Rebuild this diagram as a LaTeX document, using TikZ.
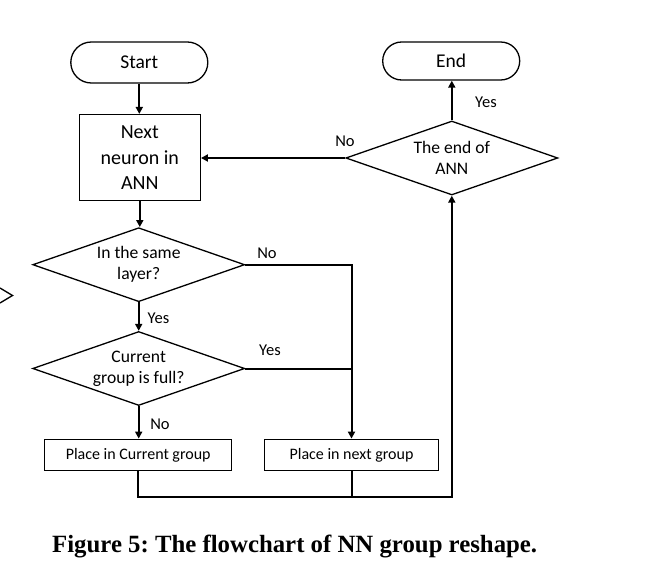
\documentclass[tikz,border=0pt]{standalone}
\usepackage{fontspec}
\setmainfont{Carlito}
\newfontfamily\capfont{Liberation Serif}
\usetikzlibrary{shapes.geometric,shapes.misc,arrows.meta}
\begin{document}
\begin{tikzpicture}[x=1pt,y=-1pt,
  shapeline/.style={draw=black, line width=1.3pt},
  term/.style={shapeline, rounded rectangle, minimum width=137pt, inner sep=0pt, font=\fontsize{19.5}{24}\selectfont},
  procbox/.style={shapeline, rectangle, inner sep=0pt, align=center},
  decision/.style={shapeline, diamond, shape aspect=2.86, minimum width=212pt, minimum height=74pt, inner sep=0pt, align=center, font=\fontsize{17.6}{21}\selectfont},
  lab/.style={inner sep=0pt, font=\fontsize{16.5}{20}\selectfont},
  wire/.style={draw=black, line width=2pt},
  conn/.style={wire, -{Triangle[length=7pt,width=7pt]}}
]
\useasboundingbox (0,0) rectangle (651,583);

% nodes
\node[term, minimum height=41pt] (start) at (139.3,62.5) {Start};
\node[term, minimum height=38pt] (end) at (451.2,61) {End};
\node[procbox, minimum width=121pt, minimum height=86pt, font=\fontsize{20}{25.5}\selectfont] (next) at (139.8,157.6) {Next\\neuron in\\ANN};
\node[decision] (endq) at (451.8,158) {The end of\\ANN};
\node[decision] (same) at (138.7,264.7) {In the same\\layer?};
\node[decision] (full) at (138.7,368.5) {Current\\group is full?};
\node[procbox, minimum width=187pt, minimum height=31.5pt, font=\fontsize{16}{20}\selectfont] (cur) at (138.2,455) {Place in Current group};
\node[procbox, minimum width=174.5pt, minimum height=31.5pt, font=\fontsize{16}{20}\selectfont] (nextg) at (351.5,455) {Place in next group};

\coordinate (br) at (451.8,497);

% connectors
\draw[conn] (start.south) -- (start.south |- next.north);
\draw[conn] (endq.west) -- (endq.west -| next.east);
\draw[conn] (endq.north) -- (endq.north |- end.south);
\draw[conn] (next.south) -- (next.south |- same.north);
\draw[conn] (same.south) -- (full.north);
\draw[conn] (full.south) -- (full.south |- cur.north);
\draw[conn] (same.east) -| (nextg.north);
\draw[wire] (full.east) -- (full.east -| nextg.north);
\draw[conn] (cur.south) |- (br) -- (endq.south);
\draw[wire] (nextg.south) -- (nextg.south |- br);

% labels
\node[lab] (l1) at (345,141.5) {No};
\node[lab] (l2) at (486,102) {Yes};
\node[lab] (l3) at (267,253.5) {No};
\node[lab] (l4) at (158.5,318) {Yes};
\node[lab] (l5) at (270,350.5) {Yes};
\node[lab] (l6) at (160,424) {No};

% partial shape at the left edge
\draw[draw=black, line width=1.3pt] (0,288) -- (12.5,295.5) -- (0,303);

% caption
\node[anchor=base west, inner sep=0pt, font=\capfont\bfseries\fontsize{24.8}{30}\selectfont] (cap) at (52,552) {\frenchspacing Figure 5: The flowchart of NN group reshape.};
\end{tikzpicture}
\end{document}
